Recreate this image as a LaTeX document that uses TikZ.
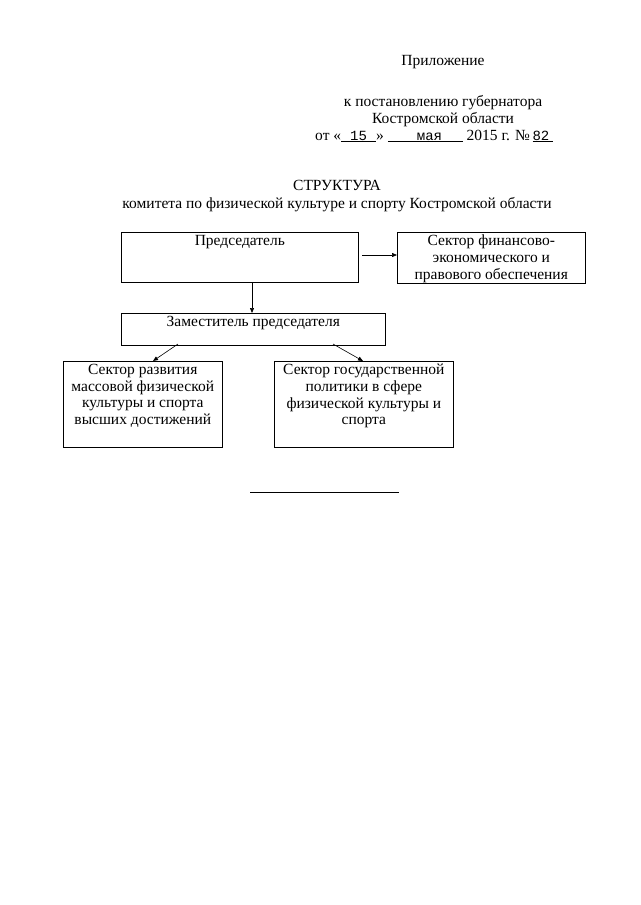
\documentclass[tikz,border=0pt]{standalone}
\usepackage{fontspec}
\setmainfont{Liberation Serif}
\newfontfamily\hwfont{Liberation Mono}
\usetikzlibrary{arrows.meta}
\begin{document}
\begin{tikzpicture}[x=1pt,y=-1pt,
  box/.style={draw, line width=0.6pt, inner sep=0pt, anchor=north west},
  txt/.style={inner sep=0pt, align=center, font=\fontsize{15.5}{16.6}\selectfont},
  hw/.style={font=\hwfont\fontsize{14}{15}\selectfont},
  conn/.style={line width=0.6pt, -{Triangle[length=5pt,width=4pt]}}]
\useasboundingbox (0,0) rectangle (640,905);
% header
\node[txt, anchor=base] (pril) at (443,65) {Приложение};
\node[txt, anchor=base] (post1) at (443,106) {к постановлению губернатора};
\node[txt, anchor=base] (post2) at (443,123) {Костромской области};
\node[txt, anchor=base west] (date) at (315,140) {от «\underline{\makebox[35pt]{\hwfont\fontsize{14}{15}\selectfont 15}}» \underline{\makebox[75pt]{\hwfont\fontsize{14}{15}\selectfont\ мая}}\ 2015 г. №\,\underline{\makebox[20pt][l]{\hwfont\fontsize{14}{15}\selectfont 82}}};
% title
\node[txt, anchor=base] (title1) at (337,190) {СТРУКТУРА};
\node[txt, anchor=base] (title2) at (337,208) {комитета по физической культуре и спорту Костромской области};
% boxes
\node[box, minimum width=237pt, minimum height=50pt] (pred) at (121,232) {};
\node[txt, anchor=north] (predt) at ([yshift=-3pt]pred.north) {Председатель};
\node[box, minimum width=188pt, minimum height=51pt] (fin) at (397,232) {};
\node[txt, anchor=north] (fint) at ([yshift=-3pt]fin.north) {Сектор финансово-\\экономического и\\правового обеспечения};
\node[box, minimum width=264pt, minimum height=32pt] (zam) at (121,313) {};
\node[txt, anchor=north] (zamt) at ([yshift=-3pt]zam.north) {Заместитель председателя};
\node[box, minimum width=159pt, minimum height=86pt] (razv) at (63,361) {};
\node[txt, anchor=north] (razvt) at ([yshift=-3pt]razv.north) {Сектор развития\\массовой физической\\культуры и спорта\\высших достижений};
\node[box, minimum width=179pt, minimum height=86pt] (gos) at (274,361) {};
\node[txt, anchor=north] (gost) at ([yshift=-3pt]gos.north) {Сектор государственной\\политики в сфере\\физической культуры и\\спорта};
% connectors
\coordinate (a1) at (362,255);
\draw[conn] (a1) -- (fin.west |- a1);
\coordinate (a2) at (252,282);
\draw[conn] (a2) -- (a2 |- zam.north);
\coordinate (a3) at (178,344);
\coordinate (a4) at (153,361);
\draw[conn] (a3) -- (a4);
\coordinate (a5) at (333,344);
\coordinate (a6) at (363,361);
\draw[conn] (a5) -- (a6);
% bottom line
\coordinate (l1) at (250,492);
\coordinate (l2) at (399,492);
\draw[line width=0.6pt] (l1) -- (l2);
\end{tikzpicture}
\end{document}
